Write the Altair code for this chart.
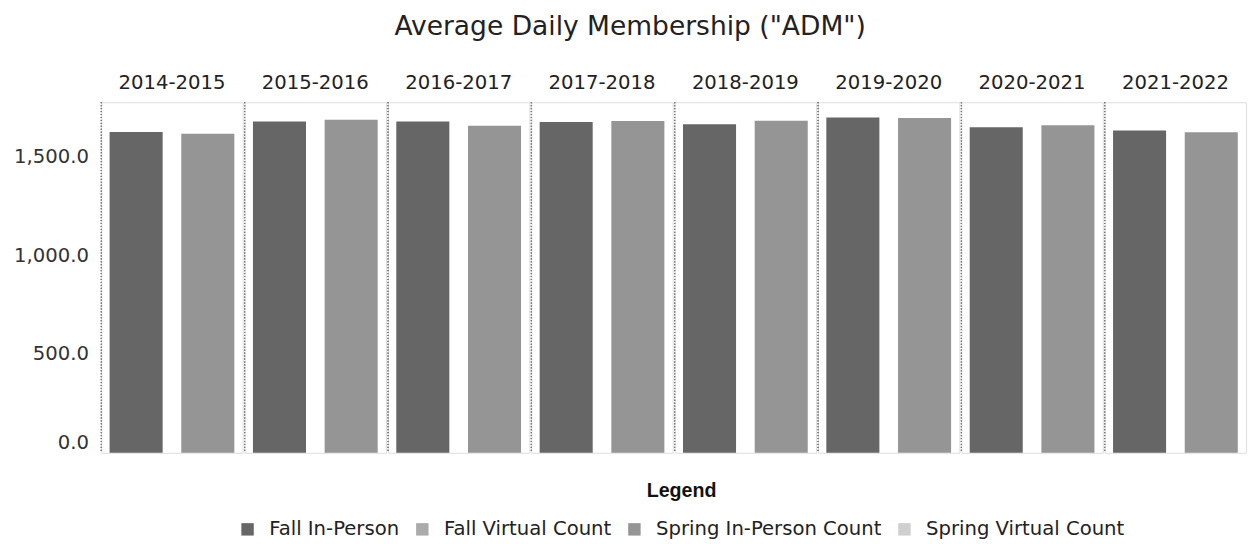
import altair as alt
import pandas as pd

years = ["2014-2015", "2015-2016", "2016-2017", "2017-2018",
         "2018-2019", "2019-2020", "2020-2021", "2021-2022"]
fall_in_person = [1625, 1677, 1678, 1675, 1664, 1698, 1648, 1632]
fall_virtual = [0, 0, 0, 0, 0, 0, 0, 0]
spring_in_person = [1616, 1687, 1656, 1680, 1681, 1695, 1659, 1623]
spring_virtual = [0, 0, 0, 0, 0, 0, 0, 0]
categories = ["Fall In-Person", "Fall Virtual Count",
              "Spring In-Person Count", "Spring Virtual Count"]
colors = ["#666666", "#ababab", "#959595", "#cfcfcf"]

rows = []
for i, y in enumerate(years):
    rows.append({"Year": y, "Season": "Fall", "Category": categories[0], "Value": fall_in_person[i]})
    rows.append({"Year": y, "Season": "Fall", "Category": categories[1], "Value": fall_virtual[i]})
    rows.append({"Year": y, "Season": "Spring", "Category": categories[2], "Value": spring_in_person[i]})
    rows.append({"Year": y, "Season": "Spring", "Category": categories[3], "Value": spring_virtual[i]})
df = pd.DataFrame(rows)

FONT = "DejaVu Sans"
H = 357

base = alt.Chart(df)

bars = base.mark_bar().encode(
    x=alt.X("Season:N", axis=None, sort=["Fall", "Spring"],
            scale=alt.Scale(paddingInner=0.26, paddingOuter=0.116)),
    y=alt.Y("sum(Value):Q", title=None,
            scale=alt.Scale(domain=[0, 1775], nice=False),
            axis=alt.Axis(format=",.1f", values=[0, 500, 1000, 1500],
                          ticks=False, domain=False, grid=False,
                          labelFontSize=20, labelColor="#333333",
                          labelFont=FONT, labelPadding=12, labelFlush=True)),
    color=alt.Color("Category:N",
                    scale=alt.Scale(domain=categories, range=colors),
                    sort=categories,
                    legend=alt.Legend(title="Legend", orient="none",
                                      direction="horizontal",
                                      legendX=139, legendY=386,
                                      titleAnchor="middle",
                                      titleFont="Liberation Sans",
                                      titleFontSize=20, titleFontWeight="bold",
                                      titleColor="#111111", titlePadding=19,
                                      labelFont=FONT, labelFontSize=20,
                                      labelColor="#222222", labelLimit=0,
                                      symbolType="square", symbolSize=160,
                                      symbolStrokeWidth=0,
                                      columnPadding=13, labelOffset=12,
                                      columns=4)),
    order=alt.Order("Category:N"),
)

sep = base.mark_rule(strokeDash=[1, 2], color="#777777", strokeWidth=1).encode(
    x=alt.value(0), y=alt.value(0), y2=alt.value(H)
)

layer = alt.layer(sep, bars).properties(width=144, height=H)

chart = layer.facet(
    column=alt.Column("Year:N", sort=years,
                      header=alt.Header(title=None, labelOrient="top",
                                        labelFontSize=20, labelFont=FONT,
                                        labelColor="#222222", labelPadding=9)),
    spacing=0,
).properties(
    title=alt.TitleParams("Average Daily Membership (\"ADM\")",
                          fontSize=27, font=FONT, fontWeight="normal",
                          color="#222222", anchor="middle", frame="bounds",
                          offset=33),
    padding={"top": 0, "left": 5, "right": 5, "bottom": 5},
).configure_view(stroke=None).configure(background="white")

chart.save("out.html", embed_options={"renderer": "svg", "actions": False})
